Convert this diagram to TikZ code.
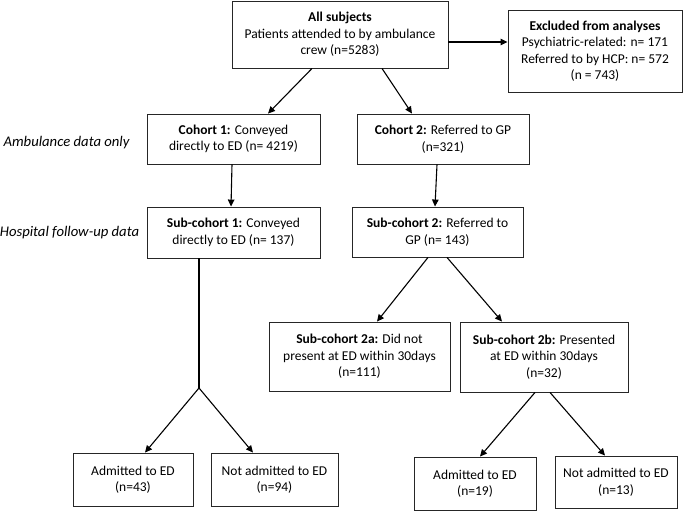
\documentclass[tikz,border=0pt]{standalone}
\usepackage{fontspec}
\setmainfont{Carlito}
\usetikzlibrary{arrows.meta}
\begin{document}
\begin{tikzpicture}[x=1pt,y=-1pt,
  font=\fontsize{13.5}{16.5}\selectfont,
  box/.style={draw=black!85, line width=0.9pt, align=center, inner sep=0pt, minimum width=#1},
  arr/.style={-{Triangle[length=7pt,width=6.5pt]}, line width=1.1pt},
  ln/.style={line width=1.1pt},
  lab/.style={font=\fontsize{14.7}{17}\selectfont\itshape, inner sep=0pt}]
\useasboundingbox[fill=white] (0,0) rectangle (685,511);

\node[box=216pt, minimum height=67pt] (top) at (340,34.5)
  {\textbf{All subjects}\\Patients attended to by ambulance\\crew (n=5283)};
\node[box=174pt, minimum height=82pt] (excl) at (595,51)
  {\textbf{Excluded from analyses}\\Psychiatric-related: n= 171\\Referred to by HCP: n= 572\\(n = 743)};
\node[box=173pt, minimum height=50pt] (c1) at (233.5,139)
  {\textbf{Cohort 1:} Conveyed\\directly to ED (n= 4219)};
\node[box=172pt, minimum height=50pt] (c2) at (443,139)
  {\textbf{Cohort 2:} Referred to GP\\(n=321)};
\node[box=173pt, minimum height=51pt] (s1) at (233.5,232.5)
  {\textbf{Sub-cohort 1:} Conveyed\\directly to ED (n= 137)};
\node[box=171pt, minimum height=50pt] (s2) at (437.5,232)
  {\textbf{Sub-cohort 2:} Referred to\\GP (n= 143)};
\node[box=181pt, minimum height=69pt] (s2a) at (359.5,356.5)
  {\textbf{Sub-cohort 2a:} Did not\\present at ED within 30days\\(n=111)};
\node[box=168pt, minimum height=70pt] (s2b) at (544,357)
  {\textbf{Sub-cohort 2b:} Presented\\at ED within 30days\\(n=32)};
\node[box=120pt, minimum height=53pt] (a1) at (133,479.5) {Admitted to ED\\(n=43)};
\node[box=127pt, minimum height=53pt] (n1) at (274.5,479.5) {Not admitted to ED\\(n=94)};
\node[box=122pt, minimum height=53pt] (a2) at (475,483.5) {Admitted to ED\\(n=19)};
\node[box=122pt, minimum height=52pt] (n2) at (616,482) {Not admitted to ED\\(n=13)};

\node[lab] (l1) at (66.5,143) {Ambulance data only};
\node[lab] (l2) at (69.5,233) {Hospital follow-up data};

\coordinate (t1) at ([yshift=-7.5pt]top.east);
\draw[arr] (t1) -- (t1 -| excl.west);
\draw[arr] ([xshift=-28pt]top.south) -- ([xshift=34.5pt]c1.north);
\draw[arr] ([xshift=42pt]top.south) -- ([xshift=-31pt]c2.north);
\draw[arr] ([xshift=-1.5pt]c1.south) -- ([xshift=-2.5pt]s1.north);
\draw[arr] ([xshift=-6pt]c2.south) -- ([xshift=-2.5pt]s2.north);

\coordinate (sp1) at (199,388);
\draw[ln] ([xshift=-34.5pt]s1.south) -- (sp1);
\draw[arr] (sp1) -- ([xshift=12pt]a1.north);
\draw[arr] (sp1) -- ([xshift=-21.5pt]n1.north);

\draw[arr] ([xshift=-9.5pt]s2.south) -- ([xshift=17.5pt]s2a.north);
\draw[arr] ([xshift=9.5pt]s2.south) -- ([xshift=-42pt]s2b.north);

\draw[arr] ([xshift=-9pt]s2b.south) -- ([xshift=5pt]a2.north);
\draw[arr] ([xshift=6pt]s2b.south) -- ([xshift=-11pt]n2.north);
\end{tikzpicture}
\end{document}
